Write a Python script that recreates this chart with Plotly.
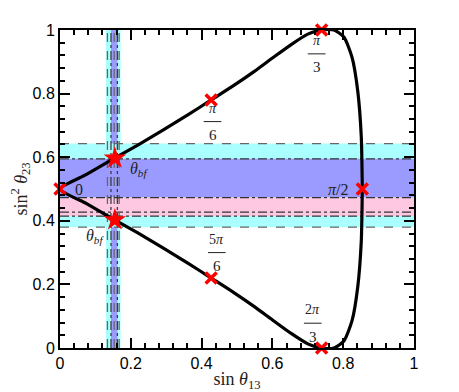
import plotly.graph_objects as go

# curve: upper branch (theta 0 -> pi/2), lower branch mirrored
curve_x = [0.0, 0.075, 0.148, 0.221, 0.292, 0.361, 0.427, 0.490, 0.549, 0.604,
           0.654, 0.700, 0.739, 0.774, 0.802, 0.825, 0.841, 0.851, 0.854]
curve_y_up = [0.500, 0.546, 0.593, 0.639, 0.686, 0.733, 0.780, 0.825, 0.870, 0.915,
              0.955, 0.987, 1.000, 1.000, 0.978, 0.914, 0.809, 0.666, 0.500]
curve_y_dn = [0.500, 0.454, 0.407, 0.361, 0.314, 0.267, 0.220, 0.175, 0.130, 0.085,
              0.045, 0.013, 0.000, 0.000, 0.022, 0.086, 0.191, 0.334, 0.500]

# special points
cross_x = [0.0, 0.427, 0.739, 0.854, 0.739, 0.427]
cross_y = [0.5, 0.780, 1.0, 0.5, 0.0, 0.220]
star_x = [0.155, 0.155]
star_y = [0.597, 0.403]

# allowed ranges
s13_wide = [0.130, 0.171]
s13_narrow = [0.144, 0.162]
s13_dash = [0.134, 0.153, 0.167]
s13_dashdot = [0.144, 0.162]
s23_wide = [0.380, 0.643]
s23_blue = [0.473, 0.595]
s23_pink = [0.415, 0.473]
s23_dash = [0.380, 0.643]
s23_dashdot = [0.595, 0.473, 0.427, 0.415]

CYAN = "#aaffff"
BLUE = "#9b9bff"
PINK = "#ffc8e2"
SERIF = "Liberation Serif, DejaVu Serif, serif"

fig = go.Figure()

shapes = []
# vertical bands
shapes.append(dict(type="rect", xref="x", yref="y", x0=s13_wide[0], x1=s13_wide[1], y0=0, y1=1,
                   fillcolor=CYAN, line_width=0, layer="below"))
shapes.append(dict(type="rect", xref="x", yref="y", x0=s13_narrow[0], x1=s13_narrow[1], y0=0, y1=1,
                   fillcolor=BLUE, line_width=0, layer="below"))
# horizontal bands on top
shapes.append(dict(type="rect", xref="x", yref="y", x0=0, x1=1, y0=s23_wide[0], y1=s23_wide[1],
                   fillcolor=CYAN, line_width=0, layer="below"))
shapes.append(dict(type="rect", xref="x", yref="y", x0=0, x1=1, y0=s23_blue[0], y1=s23_blue[1],
                   fillcolor=BLUE, line_width=0, layer="below"))
shapes.append(dict(type="rect", xref="x", yref="y", x0=0, x1=1, y0=s23_pink[0], y1=s23_pink[1],
                   fillcolor=PINK, line_width=0, layer="below"))
# boundary lines
for v in s13_dash:
    shapes.append(dict(type="line", xref="x", yref="y", x0=v, x1=v, y0=0, y1=1, layer="below",
                       line=dict(color="#666666", width=1.3, dash="dash")))
for v in s13_dashdot:
    shapes.append(dict(type="line", xref="x", yref="y", x0=v, x1=v, y0=0, y1=1, layer="below",
                       line=dict(color="#333333", width=1.2, dash="dashdot")))
for v in s23_dash:
    shapes.append(dict(type="line", xref="x", yref="y", x0=0, x1=1, y0=v, y1=v, layer="below",
                       line=dict(color="#666666", width=1.3, dash="dash")))
for v in s23_dashdot:
    shapes.append(dict(type="line", xref="x", yref="y", x0=0, x1=1, y0=v, y1=v, layer="below",
                       line=dict(color="#333333", width=1.2, dash="dashdot")))

# the closed curve
fig.add_trace(go.Scatter(
    x=curve_x + curve_x[::-1], y=curve_y_up + curve_y_dn[::-1],
    mode="lines", line=dict(color="black", width=3.2, shape="spline", smoothing=0.6),
    showlegend=False, hoverinfo="skip"))

fig.add_trace(go.Scatter(
    x=cross_x, y=cross_y, mode="markers",
    marker=dict(symbol="x-thin", size=11, line=dict(color="red", width=3.5)),
    showlegend=False, cliponaxis=False))
fig.add_trace(go.Scatter(
    x=star_x, y=star_y, mode="markers",
    marker=dict(symbol="star", size=17, color="red", line_width=0),
    showlegend=False, cliponaxis=False))

# labels
anns = []


def lab(x, y, text, size=16):
    anns.append(dict(x=x, y=y, xref="x", yref="y", text=text, showarrow=False,
                     font=dict(family=SERIF, size=size, color="#222222")))


def frac(x, y, num, den):
    lab(x, y + 0.042, num, 14)
    lab(x, y - 0.042, den, 15)
    shapes.append(dict(type="line", xref="x", yref="y", x0=x - 0.025, x1=x + 0.025,
                       y0=y, y1=y, line=dict(color="#222222", width=1)))


lab(0.055, 0.5, "0")
lab(0.222, 0.562, "<i>θ<sub>bf</sub></i>")
lab(0.099, 0.35, "<i>θ<sub>bf</sub></i>")
lab(0.785, 0.5, "<i>π</i>/2")
frac(0.431, 0.712, "<i>π</i>", "6")
frac(0.725, 0.925, "<i>π</i>", "3")
frac(0.443, 0.300, "5<i>π</i>", "6")
frac(0.714, 0.078, "2<i>π</i>", "3")

axis = dict(range=[0, 1], dtick=0.2, showgrid=False, zeroline=False, automargin=False,
            showline=True, linecolor="black", linewidth=2, mirror="allticks",
            ticks="inside", ticklen=10, tickwidth=2, tickcolor="black",
            tickfont=dict(family="Liberation Sans, Arial, sans-serif", size=16, color="black"),
            minor=dict(dtick=0.04, ticks="inside", ticklen=5, tickwidth=2, tickcolor="black",
                       showgrid=False))

# the page body adds an 8px offset at top-left, so the figure is shrunk by that much
fig.update_layout(
    width=451, height=384,
    margin=dict(l=52, r=45, t=22, b=44),
    plot_bgcolor="white", paper_bgcolor="white",
    xaxis=dict(axis, title=dict(text="sin <i>θ</i><sub>13</sub>", standoff=2,
                                font=dict(family=SERIF, size=18, color="#222222"))),
    yaxis=dict(axis, title=dict(text="sin<sup>2</sup> <i>θ</i><sub>23</sub>", standoff=6,
                                font=dict(family=SERIF, size=18, color="#222222"))),
    shapes=shapes,
    annotations=anns,
)

fig.write_html("out.html")
